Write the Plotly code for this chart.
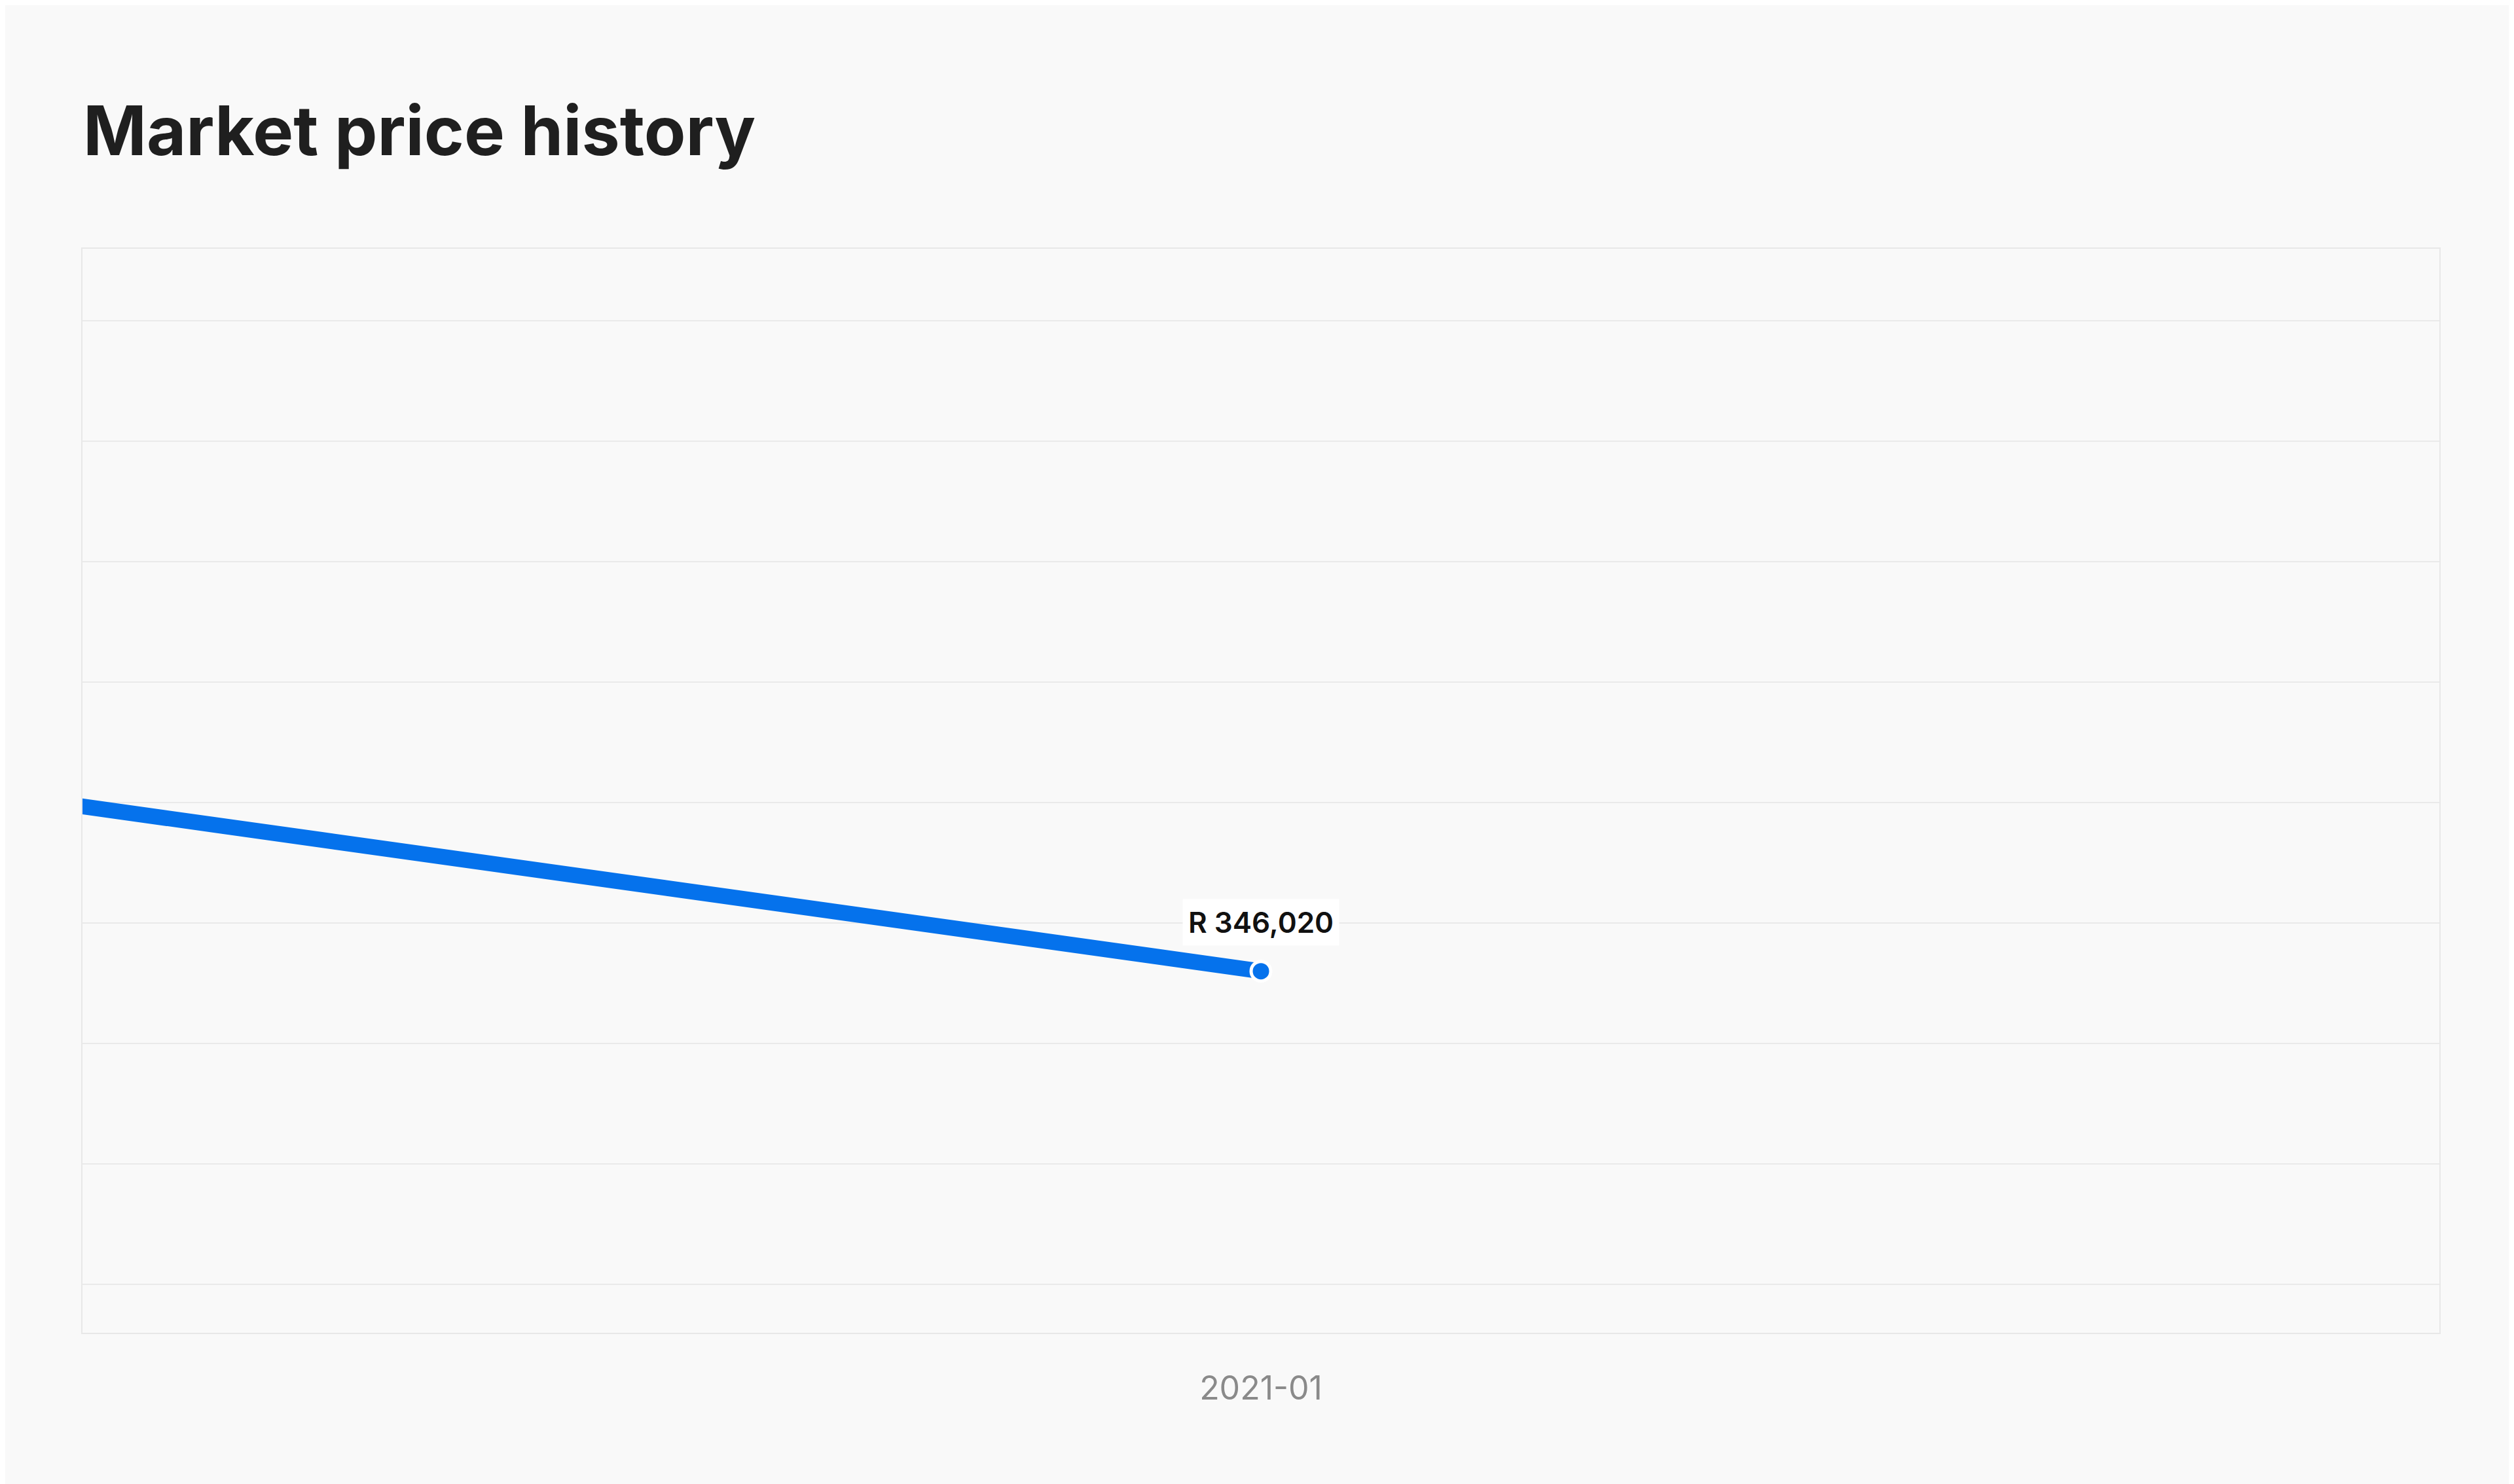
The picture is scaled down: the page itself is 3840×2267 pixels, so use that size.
import plotly.graph_objects as go

# market price history
months = ["2020-12-01", "2021-01-01"]
prices = [374300, 346020]
label_text = "R 346,020"

fig = go.Figure()
fig.add_trace(go.Scatter(
    x=months, y=prices, mode="lines",
    line=dict(color="#0572ec", width=24),
    hoverinfo="skip", showlegend=False))
fig.add_trace(go.Scatter(
    x=months[-1:], y=prices[-1:], mode="markers",
    marker=dict(color="#0572ec", size=30, line=dict(color="white", width=5)),
    hoverinfo="skip", showlegend=False))

fig.add_annotation(
    x=months[-1], y=prices[-1], text=label_text, showarrow=False,
    yshift=75, bgcolor="white", borderpad=8,
    font=dict(family="Inter", size=44, color="#111111", weight=600))

fig.update_layout(
    width=3840, height=2267,
    paper_bgcolor="#f9f9f9", plot_bgcolor="#f9f9f9",
    margin=dict(l=118, r=122, t=372, b=239),
    title=dict(text="<b>Market price history</b>", x=0.031, xanchor="left",
               y=0.915, yanchor="middle",
               font=dict(family="Inter", size=104, color="#1f1f1f")),
    font=dict(family="Inter"),
    xaxis=dict(type="date", range=["2020-12-17", "2021-01-16"],
               tickvals=["2021-01-01"], ticktext=["2021-01"],
               showgrid=False, zeroline=False, showline=True, mirror=True,
               linecolor="#e8e8e8", linewidth=2, ticks="", ticklabelstandoff=40,
               tickfont=dict(size=50, color="#8a8a8a")),
    yaxis=dict(range=[316000, 406000], dtick=10000, showticklabels=False,
               gridcolor="#eaeaea", gridwidth=2, zeroline=False,
               showline=True, mirror=True, linecolor="#e8e8e8", linewidth=2),
)

fig.write_html("out.html")
